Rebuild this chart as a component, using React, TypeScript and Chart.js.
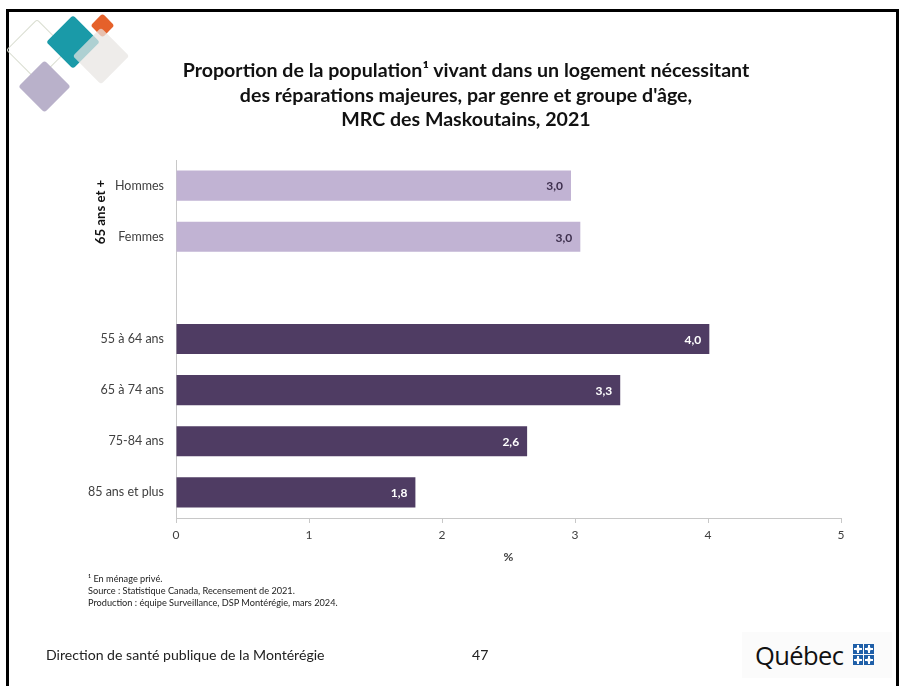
import React, { useEffect, useRef } from "react";
import { Chart, registerables } from "chart.js";

Chart.register(...registerables);

const categories = ["Hommes", "Femmes", "", "55 à 64 ans", "65 à 74 ans", "75-84 ans", "85 ans et plus"];
const groups = ["genre", "genre", "", "age", "age", "age", "age"];
const values: (number | null)[] = [2.97, 3.04, null, 4.01, 3.34, 2.64, 1.8];
const xTicks = [0, 1, 2, 3, 4, 5];

const titleLines = [
  "Proportion de la population¹ vivant dans un logement nécessitant",
  "des réparations majeures, par genre et groupe d'âge,",
  "MRC des Maskoutains, 2021",
];
const footnotes = [
  "¹ En ménage privé.",
  "Source : Statistique Canada, Recensement de 2021.",
  "Production : équipe Surveillance, DSP Montérégie, mars 2024.",
];
const groupLabel = "65 ans et +";
const axisTitle = "%";
const footerLeft = "Direction de santé publique de la Montérégie";
const pageNumber = "47";

const FONT = "Lato, 'Open Sans', sans-serif";
const LIGHT = "#c1b3d3";
const DARK = "#4f3c63";

const fmt = (v: number) => v.toFixed(1).replace(".", ",");

const valueLabelPlugin = {
  id: "valueLabels",
  afterDatasetsDraw(chart: any) {
    const ctx = chart.ctx;
    const meta = chart.getDatasetMeta(0);
    ctx.save();
    ctx.font = `bold 12px ${FONT}`;
    ctx.textAlign = "right";
    ctx.textBaseline = "middle";
    meta.data.forEach((bar: any, i: number) => {
      const v = values[i];
      if (v == null) return;
      ctx.fillStyle = groups[i] === "genre" ? "#3d2f4d" : "#ffffff";
      ctx.fillText(fmt(v), bar.x - 8, bar.y + 1);
    });
    ctx.restore();
  },
};

function Diamond({ cx, cy, side, style }: { cx: number; cy: number; side: number; style: React.CSSProperties }) {
  return (
    <div
      style={{
        position: "absolute",
        left: cx - side / 2,
        top: cy - side / 2,
        width: side,
        height: side,
        transform: "rotate(45deg)",
        borderRadius: 3,
        boxSizing: "border-box",
        ...style,
      }}
    />
  );
}

function QuebecFlag({ x, y }: { x: number; y: number }) {
  const cells = [
    [0, 0],
    [1, 0],
    [0, 1],
    [1, 1],
  ];
  return (
    <div style={{ position: "absolute", left: x, top: y, width: 21, height: 21 }}>
      {cells.map(([cx, cy], i) => (
        <div
          key={i}
          style={{
            position: "absolute",
            left: cx * 11,
            top: cy * 11,
            width: 10,
            height: 10,
            background: "#1f5fa8",
          }}
        >
          <div style={{ position: "absolute", left: 4, top: 1, width: 2, height: 8, background: "#fff" }} />
          <div style={{ position: "absolute", left: 1, top: 4, width: 8, height: 2, background: "#fff" }} />
          <div style={{ position: "absolute", left: 3, top: 3, width: 4, height: 4, background: "#fff", borderRadius: 2 }} />
        </div>
      ))}
    </div>
  );
}

export default function App() {
  const canvasRef = useRef<HTMLCanvasElement | null>(null);

  useEffect(() => {
    document.body.style.margin = "0";
    const canvas = canvasRef.current;
    if (!canvas) return;
    const chart = new Chart(canvas, {
      type: "bar",
      data: {
        labels: categories,
        datasets: [
          {
            data: values as any,
            backgroundColor: groups.map((g) => (g === "genre" ? LIGHT : DARK)),
            borderWidth: 0,
            categoryPercentage: 1,
            barPercentage: 0.59,
          },
        ],
      },
      options: {
        indexAxis: "y",
        responsive: false,
        animation: false,
        events: [],
        layout: { padding: { top: 160, right: 63, bottom: 118, left: 0 } },
        plugins: {
          legend: { display: false },
          tooltip: { enabled: false },
          title: { display: false },
        },
        scales: {
          x: {
            type: "linear",
            min: xTicks[0],
            max: xTicks[xTicks.length - 1],
            afterBuildTicks: (scale: any) => {
              scale.ticks = xTicks.map((v) => ({ value: v }));
            },
            afterFit: (scale: any) => {
              scale.height = 50;
            },
            grid: {
              display: true,
              drawOnChartArea: false,
              drawTicks: true,
              tickLength: 5,
              color: "#c8c8c8",
            },
            border: { display: true, color: "#c8c8c8", width: 1 },
            ticks: {
              padding: 5,
              color: "#404040",
              font: { family: FONT, size: 12 },
              callback: (v: any) => String(v),
            },
            title: {
              display: true,
              text: axisTitle,
              color: "#404040",
              font: { family: FONT, size: 12, weight: "bold" },
            },
          },
          y: {
            type: "category",
            afterFit: (scale: any) => {
              scale.width = 176;
            },
            grid: { display: false, drawTicks: false },
            border: { display: true, color: "#c8c8c8", width: 1 },
            ticks: {
              padding: 12,
              color: "#404040",
              font: { family: FONT, size: 12.5 },
            },
          },
        },
      },
      plugins: [valueLabelPlugin],
    });
    return () => chart.destroy();
  }, []);

  return (
    <div style={{ position: "relative", width: 904, height: 686, overflow: "hidden", background: "#fff", fontFamily: FONT }}>
      {/* slide frame */}
      <div
        style={{
          position: "absolute",
          left: 6,
          top: 9,
          width: 893,
          height: 700,
          borderTop: "3px solid #000",
          borderLeft: "3px solid #000",
          borderRight: "3px solid #000",
          boxSizing: "border-box",
        }}
      />
      {/* decorative diamonds */}
      <Diamond cx={37} cy={50} side={44} style={{ border: "1.5px solid #d9ddd0" }} />
      <Diamond cx={44} cy={86} side={37} style={{ background: "#b9b1ca" }} />
      <Diamond cx={73} cy={42} side={38} style={{ background: "#1a9aa8" }} />
      <Diamond cx={102} cy={25} side={17} style={{ background: "#e5612a" }} />
      <Diamond cx={101} cy={56} side={40} style={{ background: "rgba(232,228,226,0.72)" }} />

      <canvas ref={canvasRef} width={904} height={686} style={{ position: "absolute", left: 0, top: 0, width: 904, height: 686 }} />

      {/* title */}
      <div
        style={{
          position: "absolute",
          left: 116,
          top: 58,
          width: 700,
          textAlign: "center",
          fontWeight: "bold",
          fontSize: 19.6,
          lineHeight: "24.5px",
          color: "#111",
        }}
      >
        {titleLines.map((l, i) => (
          <div key={i} style={{ whiteSpace: "nowrap" }}>{l}</div>
        ))}
      </div>

      {/* group label */}
      <div
        style={{
          position: "absolute",
          left: 100 - 50,
          top: 212 - 9,
          width: 100,
          height: 18,
          lineHeight: "18px",
          textAlign: "center",
          fontWeight: "bold",
          fontSize: 13.2,
          color: "#111",
          transform: "rotate(-90deg)",
          whiteSpace: "nowrap",
        }}
      >
        {groupLabel}
      </div>

      {/* footnotes */}
      <div style={{ position: "absolute", left: 88, top: 573, fontSize: 9.2, lineHeight: "12px", color: "#222" }}>
        {footnotes.map((l, i) => (
          <div key={i} style={{ whiteSpace: "nowrap" }}>{l}</div>
        ))}
      </div>

      {/* footer */}
      <div style={{ position: "absolute", left: 46, top: 645, fontSize: 14.1, lineHeight: "20px", color: "#222", whiteSpace: "nowrap" }}>
        {footerLeft}
      </div>
      <div style={{ position: "absolute", left: 472, top: 645, fontSize: 14.1, lineHeight: "20px", color: "#222" }}>{pageNumber}</div>

      {/* Québec logo */}
      <div style={{ position: "absolute", left: 742, top: 632, width: 150, height: 46, background: "#fbfbfb" }} />
      <div
        style={{
          position: "absolute",
          left: 755,
          top: 637,
          fontFamily: "'Open Sans', 'DejaVu Sans', sans-serif",
          fontSize: 25.5,
          lineHeight: "36px",
          letterSpacing: "-0.6px",
          color: "#111",
          whiteSpace: "nowrap",
        }}
      >
        Québec
      </div>
      <QuebecFlag x={853} y={644} />
    </div>
  );
}
